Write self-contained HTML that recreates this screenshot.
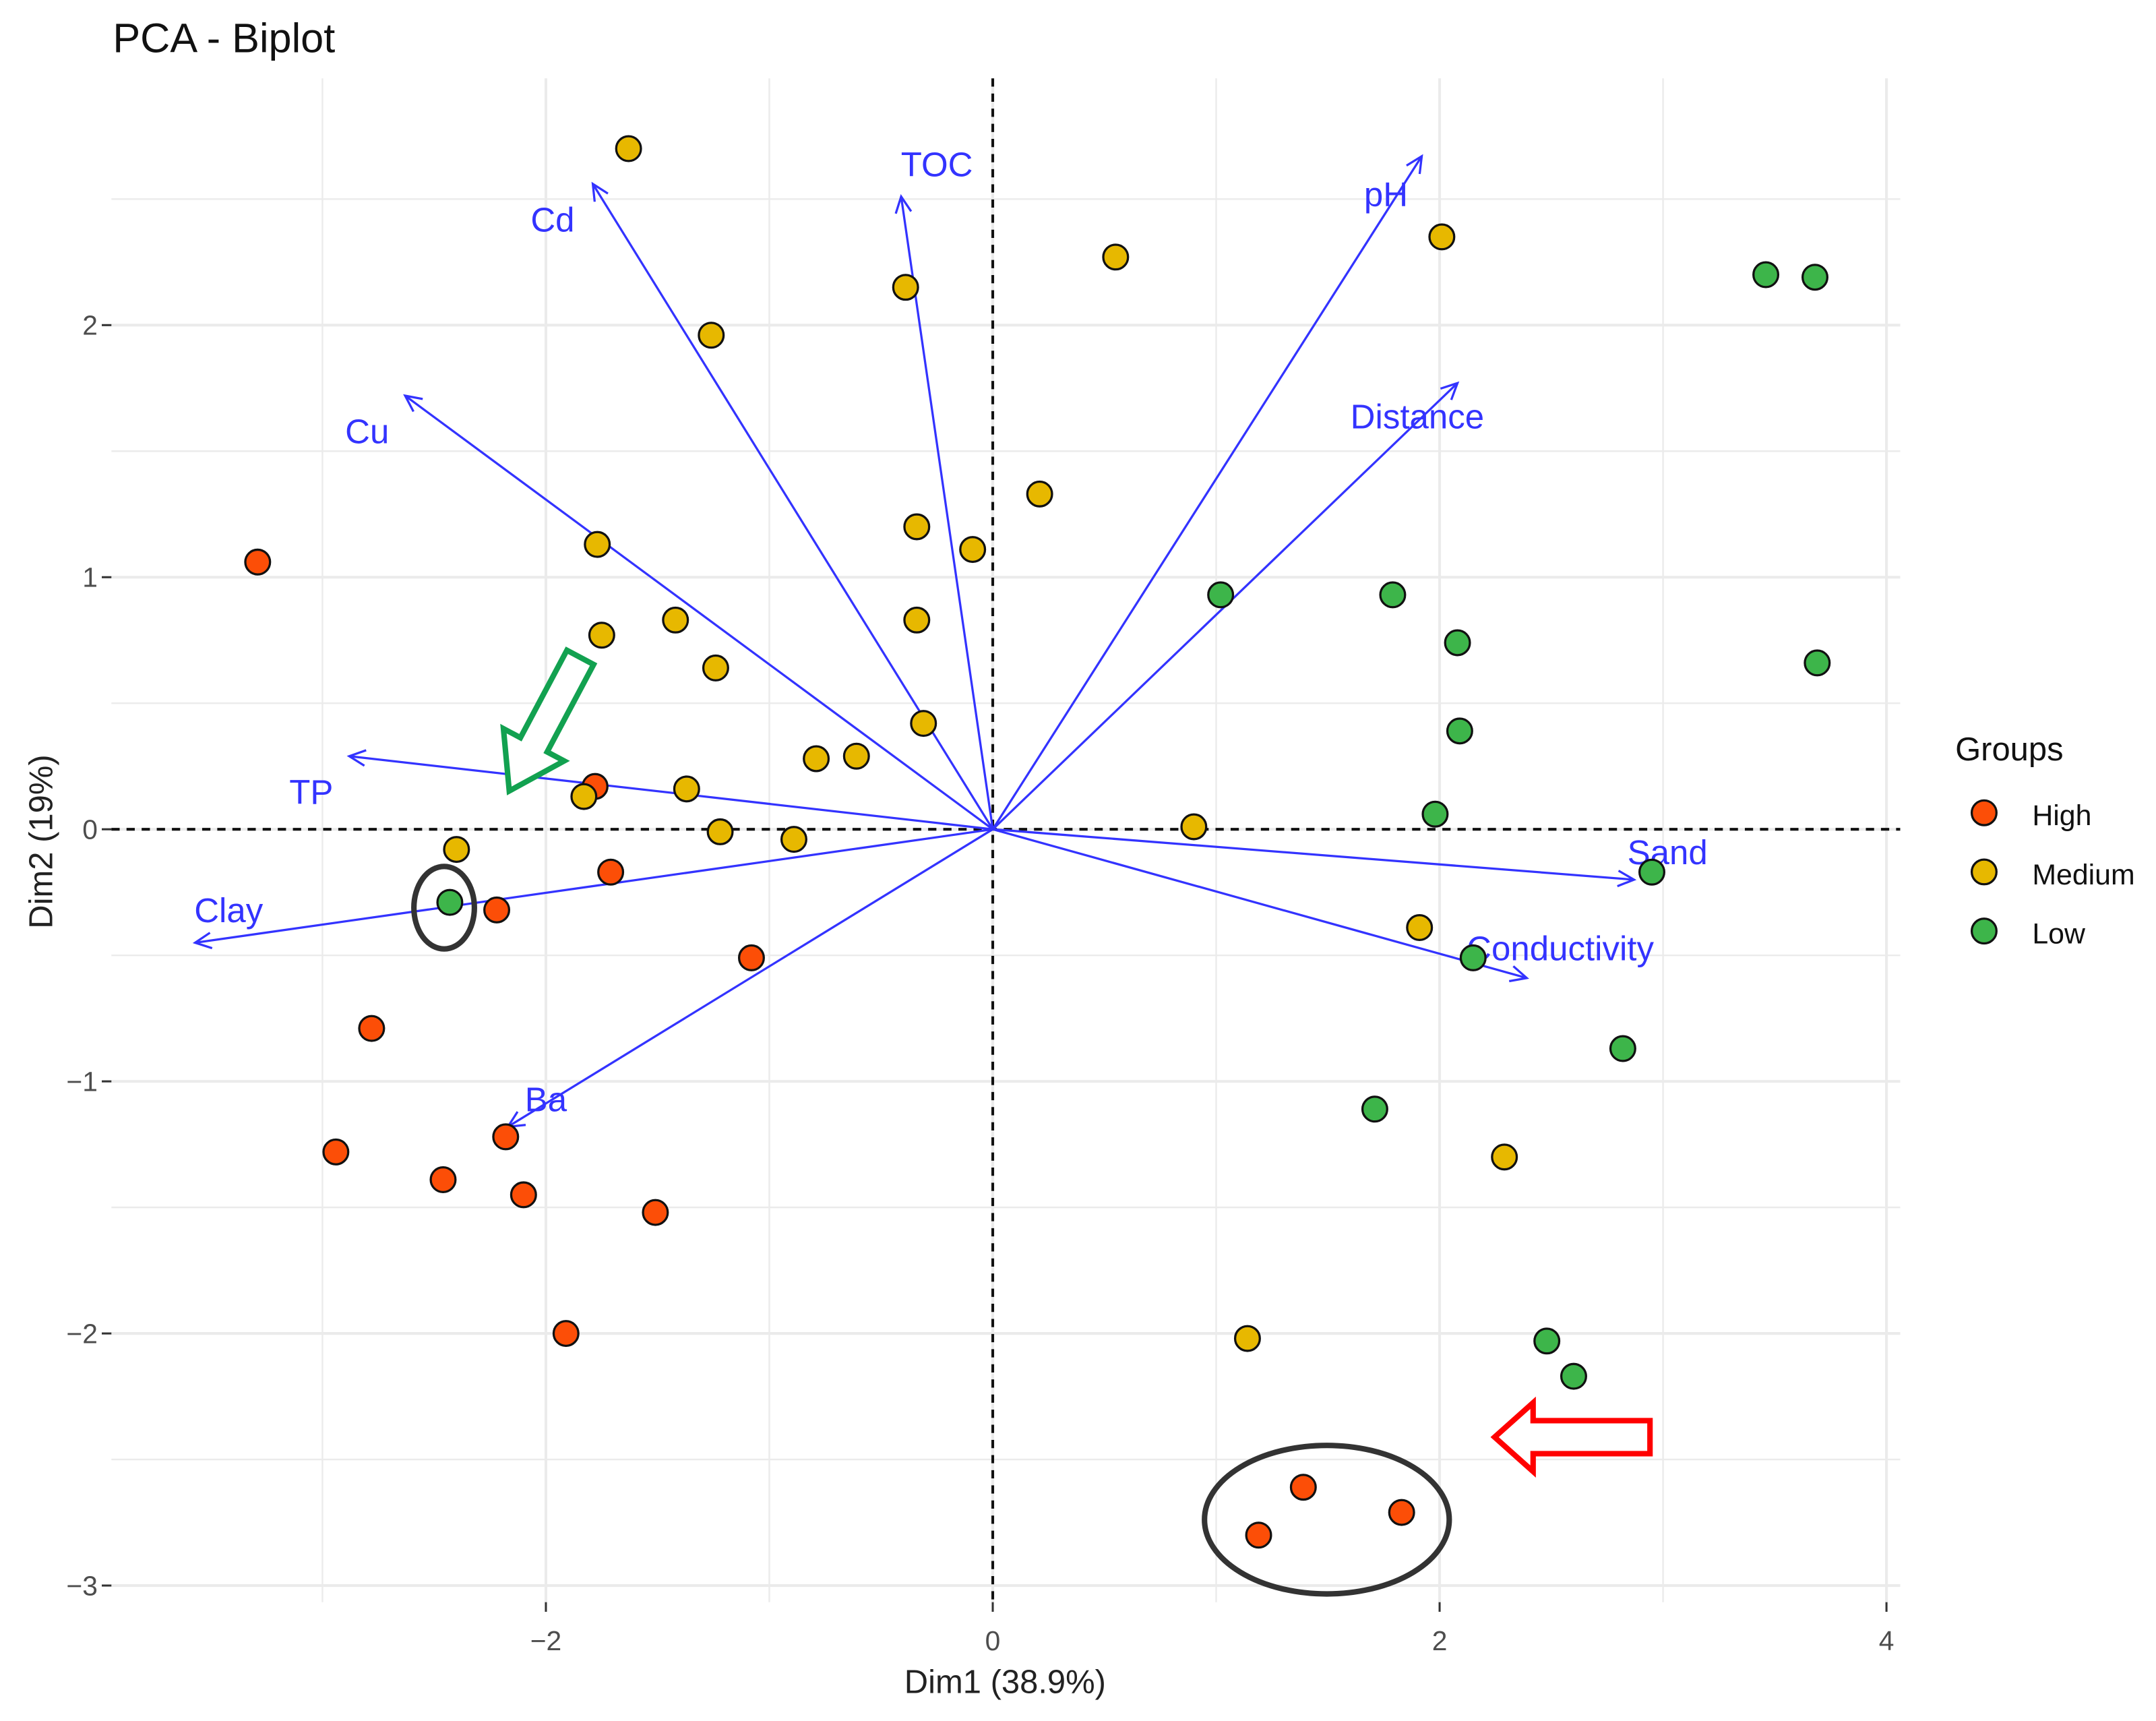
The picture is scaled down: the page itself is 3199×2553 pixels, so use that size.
<!DOCTYPE html>
<html><head><meta charset="utf-8"><style>html,body{margin:0;padding:0;background:#fff}svg{display:block}</style></head>
<body>
<svg id="chart" xmlns="http://www.w3.org/2000/svg" width="3199" height="2553" viewBox="0 0 1568 1251.4" font-family="'Liberation Sans', sans-serif">
<rect width="1568" height="1251.4" fill="#fff"/>
<text x="82" y="38" font-size="30" fill="#111">PCA - Biplot</text>
<g id="grid"></g>
<g id="axes"></g>
<g id="vars"></g>
<g id="pts"></g>
<ellipse cx="323" cy="660" rx="22" ry="30" fill="none" stroke="#333" stroke-width="4"/>
<ellipse cx="965" cy="1105" rx="89" ry="54" fill="none" stroke="#333" stroke-width="4"/>
<polygon transform="translate(422,478) rotate(118)" points="0,-11 72,-11 72,-25 110,0 72,25 72,11 0,11" fill="#fff" stroke="#12a150" stroke-width="4"/>
<polygon points="1200,1033 1115,1033 1115,1020 1087,1045 1115,1070 1115,1057 1200,1057" fill="#fff" stroke="#f00" stroke-width="4"/>
<text x="731" y="1231" font-size="24" text-anchor="middle" fill="#222">Dim1 (38.9%)</text>
<text transform="translate(38,612) rotate(-90)" font-size="24" text-anchor="middle" fill="#222">Dim2 (19%)</text>
<g>
<text x="1422" y="553" font-size="24" fill="#111">Groups</text>
<circle cx="1443" cy="591" r="9" fill="#FC4E07" stroke="#111" stroke-width="1.6"/>
<text x="1478" y="600" font-size="21" fill="#111">High</text>
<circle cx="1443" cy="634" r="9" fill="#E7B800" stroke="#111" stroke-width="1.6"/>
<text x="1478" y="643" font-size="21" fill="#111">Medium</text>
<circle cx="1443" cy="677" r="9" fill="#3DB54A" stroke="#111" stroke-width="1.6"/>
<text x="1478" y="686" font-size="21" fill="#111">Low</text>
</g>
</svg>
<script>
const xTicks = [-2, 0, 2, 4];
const yTicks = [-3, -2, -1, 0, 1, 2];
const highX = [-3.29,-1.78,-1.71,-2.22,-1.08,-2.78,-2.18,-2.94,-2.46,-2.10,-1.51,-1.91,1.39,1.19,1.83];
const highY = [1.06,0.17,-0.17,-0.32,-0.51,-0.79,-1.22,-1.28,-1.39,-1.45,-1.52,-2.00,-2.61,-2.80,-2.71];
const medX = [-1.63,0.55,2.01,-0.39,-1.26,0.21,-0.34,-0.09,-1.77,-0.34,-1.42,-1.75,-1.24,-0.31,-0.79,-0.61,-1.37,-1.83,-1.22,-0.89,-2.40,0.90,1.91,2.29,1.14];
const medY = [2.70,2.27,2.35,2.15,1.96,1.33,1.20,1.11,1.13,0.83,0.83,0.77,0.64,0.42,0.28,0.29,0.16,0.13,-0.01,-0.04,-0.08,0.01,-0.39,-1.30,-2.02];
const lowX = [3.46,3.68,3.69,1.02,1.79,2.08,2.09,1.98,2.95,2.15,2.82,1.71,2.48,2.60,-2.43];
const lowY = [2.20,2.19,0.66,0.93,0.93,0.74,0.39,0.06,-0.17,-0.51,-0.87,-1.11,-2.03,-2.17,-0.29];
const varNames = ["Cd","TOC","pH","Cu","Distance","TP","Clay","Ba","Sand","Conductivity"];
const varX = [-1.79,-0.41,1.92,-2.63,2.08,-2.88,-3.57,-2.17,2.87,2.39];
const varY = [2.56,2.51,2.67,1.72,1.77,0.29,-0.45,-1.18,-0.20,-0.59];
const labelX = [-1.97,-0.25,1.76,-2.80,1.90,-3.05,-3.42,-2.00,3.02,2.54];
const labelY = [2.42,2.64,2.52,1.58,1.64,0.15,-0.32,-1.07,-0.09,-0.47];

const NS = "http://www.w3.org/2000/svg";
const X = v => 722 + 162.5 * v;
const Y = v => 603 - 183.3 * v;
const L = 81, R = 1382, T = 57, B = 1165;
function mk(tag, attrs, parent) { const e = document.createElementNS(NS, tag); for (const k in attrs) e.setAttribute(k, attrs[k]); parent.appendChild(e); return e; }
const grid = document.getElementById('grid'), axes = document.getElementById('axes');
for (let v = -3; v <= 4; v++) {
  const g = mk('line', {x1: X(v), x2: X(v), y1: T, y2: B, stroke: '#ebebeb', 'stroke-width': v % 2 === 0 ? 2 : 1.2}, grid);
  
  
}
for (let v = -3; v <= 2.5; v += 0.5) {
  const g = mk('line', {x1: L, x2: R, y1: Y(v), y2: Y(v), stroke: '#ebebeb', 'stroke-width': Number.isInteger(v) ? 2 : 1.2}, grid);
  
  
}
xTicks.forEach(v => {
  mk('line', {x1: X(v), x2: X(v), y1: B, y2: B + 7, stroke: '#333', 'stroke-width': 1.5}, axes);
  const t = mk('text', {x: X(v), y: 1200, 'font-size': 20, 'text-anchor': 'middle', fill: '#4d4d4d'}, axes);
  t.textContent = v < 0 ? '\u2212' + Math.abs(v) : String(v);
  
  
});
yTicks.forEach(v => {
  mk('line', {x1: L - 7, x2: L, y1: Y(v), y2: Y(v), stroke: '#333', 'stroke-width': 1.5}, axes);
  const t = mk('text', {x: L - 10, y: Y(v) + 7, 'font-size': 20, 'text-anchor': 'end', fill: '#4d4d4d'}, axes);
  t.textContent = v < 0 ? '\u2212' + Math.abs(v) : String(v);
  
  
});
const dz1 = mk('line', {x1: X(0), x2: X(0), y1: T, y2: B, stroke: '#111', 'stroke-width': 2, 'stroke-dasharray': '6,5'}, axes);


const dz2 = mk('line', {x1: L, x2: R, y1: Y(0), y2: Y(0), stroke: '#111', 'stroke-width': 2, 'stroke-dasharray': '6,5'}, axes);



const vars = document.getElementById('vars');
varNames.forEach((n, i) => {
  const x1 = X(0), y1 = Y(0), x2 = X(varX[i]), y2 = Y(varY[i]);
  const ln = mk('line', {x1, y1, x2, y2, stroke: '#3333ff', 'stroke-width': 1.6}, vars);
  
  
  const a = Math.atan2(y2 - y1, x2 - x1), h = 13, s = 0.45;
  const p = mk('polyline', {points: `${x2 - h*Math.cos(a - s)},${y2 - h*Math.sin(a - s)} ${x2},${y2} ${x2 - h*Math.cos(a + s)},${y2 - h*Math.sin(a + s)}`, fill: 'none', stroke: '#3333ff', 'stroke-width': 1.6}, vars);
  
  
  const t = mk('text', {x: X(labelX[i]), y: Y(labelY[i]) + 9, 'font-size': 25, 'text-anchor': 'middle', fill: '#3333ff'}, vars);
  t.textContent = n;
  
  
});
const pts = document.getElementById('pts');
[[highX, highY, '#FC4E07', 'high'], [medX, medY, '#E7B800', 'medium'], [lowX, lowY, '#3DB54A', 'low']].forEach(([xs, ys, c, g]) => {
  xs.forEach((v, i) => {
    const ci = mk('circle', {cx: X(v), cy: Y(ys[i]), r: 9, fill: c, stroke: '#111', 'stroke-width': 1.6}, pts);
    
    
  });
});
</script>
</body></html>
